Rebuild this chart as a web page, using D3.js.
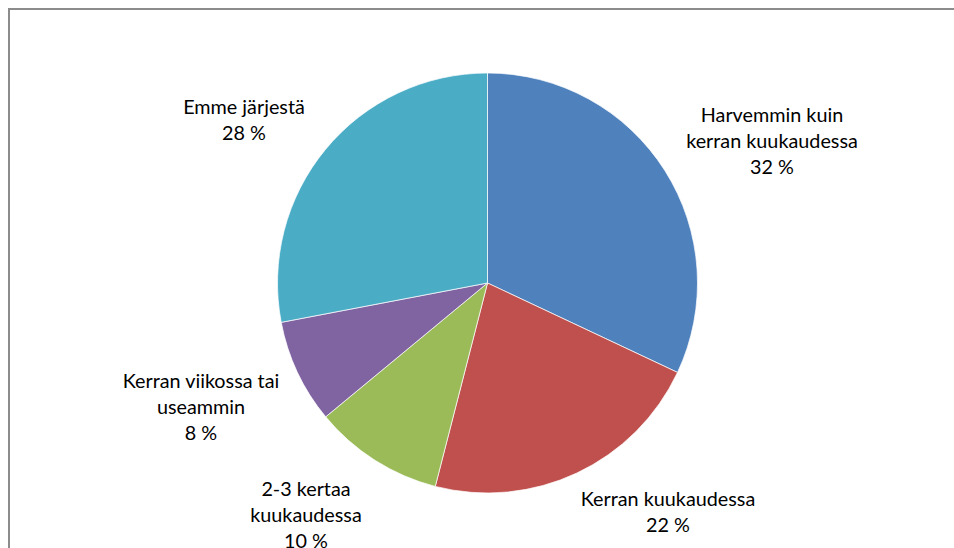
<!DOCTYPE html>
<html><head><meta charset="utf-8">
<script src="https://cdn.jsdelivr.net/npm/d3@7/dist/d3.min.js"></script>
<style>html,body{margin:0;padding:0;background:#fff;}svg{display:block;}</style>
</head><body>
<svg id="c" width="954" height="548"></svg>
<script>
const categories = [
  ["Harvemmin kuin", "kerran kuukaudessa"],
  ["Kerran kuukaudessa"],
  ["2-3 kertaa", "kuukaudessa"],
  ["Kerran viikossa tai", "useammin"],
  ["Emme järjestä"]
];
const values = [32, 22, 10, 8, 28];
const valueLabels = ["32 %", "22 %", "10 %", "8 %", "28 %"];
const colors = ["#4F81BD", "#C0504D", "#9BBB59", "#8064A2", "#4BACC6"];

const svg = d3.select("#c");
// chart frame
svg.append("path").attr("d", "M9,548 L9,9 L954,9")
  .attr("fill", "none").attr("stroke", "#8c8c8c").attr("stroke-width", 2);

const cx = 487.5, cy = 283, r = 210;
const pie = d3.pie().sort(null).value(d => d)(values);
const arc = d3.arc().innerRadius(0).outerRadius(r);
const g = svg.append("g").attr("transform", `translate(${cx},${cy})`);
g.selectAll("path").data(pie).join("path")
  .attr("d", arc).attr("fill", (d, i) => colors[i])
  .attr("stroke", "#fff").attr("stroke-width", 0.7);

// label anchor positions (centre x, first line baseline y)
const labelPos = [[772, 122], [668, 506], [306, 496], [201, 388], [244, 114]];
const lh = 26;
labelPos.forEach(([x, y], i) => {
  const lines = categories[i].concat([valueLabels[i]]);
  const t = svg.append("text").attr("text-anchor", "middle")
    .attr("font-family", "Lato, 'Open Sans', sans-serif").attr("font-size", 19.8)
    .attr("fill", "#000");
  lines.forEach((s, j) => {
    t.append("tspan").attr("x", x).attr("y", y + j * lh).text(s);
  });
});
</script>
</body></html>
